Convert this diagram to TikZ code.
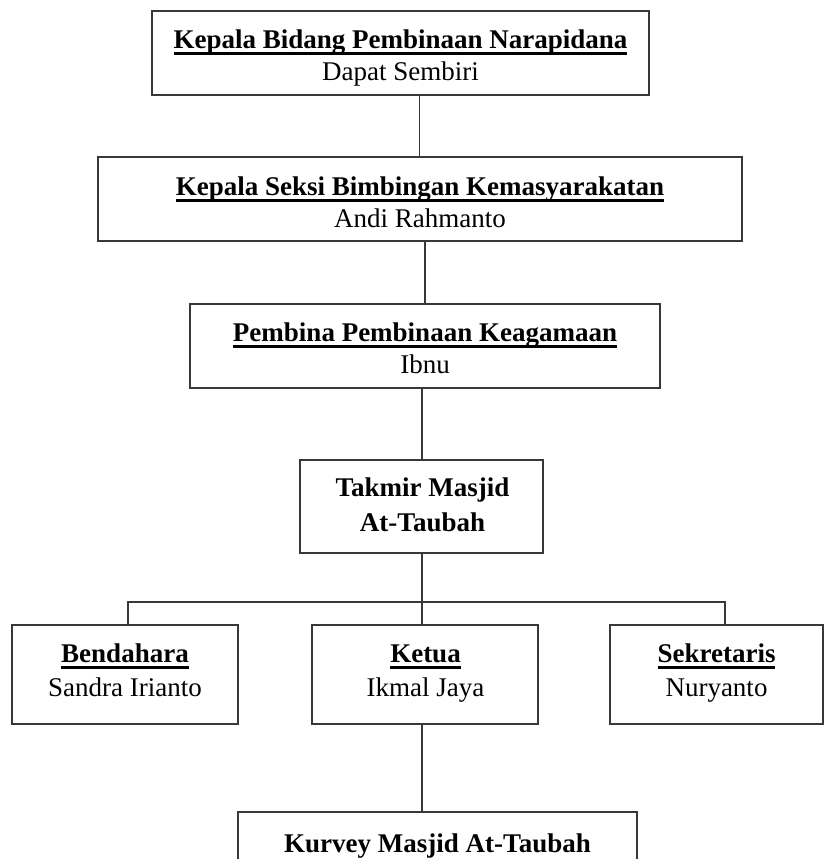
\documentclass[tikz,border=0pt]{standalone}
\usepackage{fontspec}
\setmainfont{Liberation Serif}
\newsavebox\ulsave
\newcommand{\ulbf}[1]{\sbox\ulsave{\bfseries #1}\leavevmode\rlap{\rule[-0.25em]{\wd\ulsave}{0.11em}}\usebox\ulsave}
\tikzset{
  orgbox/.style={draw=black!78, line width=1.2pt, inner sep=0pt, outer sep=0pt, fill=none},
  txt/.style={inner sep=0pt, outer sep=0pt, anchor=base, font=\fontsize{27}{32}\selectfont},
  ttl/.style={txt, font=\fontsize{27}{32}\selectfont\bfseries},
  conn/.style={draw=black!78, line width=1.2pt}
}
\begin{document}
\begin{tikzpicture}[x=1pt, y=-1pt]
\useasboundingbox (0,0) rectangle (824,859);
% boxes
\node[orgbox, minimum width=497pt, minimum height=84pt] (b1) at (400.5,53) {};
\node[orgbox, minimum width=644pt, minimum height=84pt] (b2) at (420,199) {};
\node[orgbox, minimum width=470pt, minimum height=84pt] (b3) at (425,346) {};
\node[orgbox, minimum width=243pt, minimum height=93pt] (tk) at (421.5,506.5) {};
\node[orgbox, minimum width=226pt, minimum height=99pt] (ben) at (125,674.5) {};
\node[orgbox, minimum width=226pt, minimum height=99pt] (ket) at (425,674.5) {};
\node[orgbox, minimum width=213pt, minimum height=99pt] (sek) at (716.5,674.5) {};
\node[orgbox, minimum width=399pt, minimum height=100pt] (kur) at (437.5,862) {};
% texts
\node[txt] (b1t) at (400.5,48.3) {\ulbf{Kepala Bidang Pembinaan Narapidana}};
\node[txt] (b1n) at (400.5,80.5) {Dapat Sembiri};
\node[txt] (b2t) at (420,195) {\ulbf{Kepala Seksi Bimbingan Kemasyarakatan}};
\node[txt] (b2n) at (420,227.5) {Andi Rahmanto};
\node[txt] (b3t) at (425,341.5) {\ulbf{Pembina Pembinaan Keagamaan}};
\node[txt] (b3n) at (425,373.5) {Ibnu};
\node[ttl] (tkt1) at (422.5,496.7) {Takmir Masjid};
\node[ttl] (tkt2) at (422.5,531.7) {At-Taubah};
\node[txt] (bent) at (125,662) {\ulbf{Bendahara}};
\node[txt] (benn) at (125,696.5) {Sandra Irianto};
\node[txt] (kett) at (425.5,662) {\ulbf{Ketua}};
\node[txt] (ketn) at (425.5,696.5) {Ikmal Jaya};
\node[txt] (sekt) at (716.5,662) {\ulbf{Sekretaris}};
\node[txt] (sekn) at (716.5,696.5) {Nuryanto};
\node[ttl] (kurt) at (437.5,852) {Kurvey Masjid At-Taubah};
% connector guide coordinates
\coordinate (xa) at (419.5,0);
\coordinate (xb) at (425,0);
\coordinate (xc) at (422,0);
\coordinate (xl) at (128,0);
\coordinate (xr) at (725,0);
\coordinate (bus) at (0,602);
% connectors
\draw[conn] (b1.south -| xa) -- (b2.north -| xa);
\draw[conn] (b2.south -| xb) -- (b3.north -| xb);
\draw[conn] (b3.south -| xc) -- (tk.north -| xc);
\draw[conn] (tk.south -| xc) -- (ket.north -| xc);
\draw[conn] (ben.north -| xl) -- (xl |- bus) -- (xr |- bus) -- (sek.north -| xr);
\draw[conn] (ket.south -| xc) -- (kur.north -| xc);
\end{tikzpicture}
\end{document}
